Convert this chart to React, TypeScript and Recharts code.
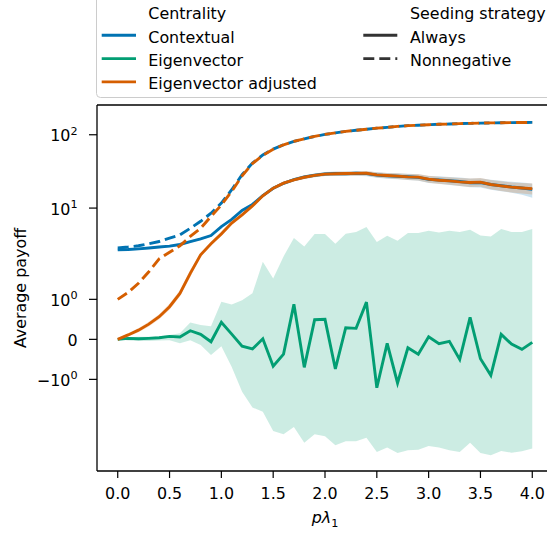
import React from 'react';
import { ComposedChart, Line, Area, XAxis, YAxis, ReferenceLine } from 'recharts';

const BLUE = '#0173B2';
const GREEN = '#029E73';
const ORANGE = '#D55E00';
const FONT = 'DejaVu Sans, sans-serif';
const FS = 15.9;

const pLambda = [
  0.0, 0.1, 0.2, 0.3, 0.4, 0.5, 0.6, 0.7, 0.8, 0.9,
  1.0, 1.1, 1.2, 1.3, 1.4, 1.5, 1.6, 1.7, 1.8, 1.9,
  2.0, 2.1, 2.2, 2.3, 2.4, 2.5, 2.6, 2.7, 2.8, 2.9,
  3.0, 3.1, 3.2, 3.3, 3.4, 3.5, 3.6, 3.7, 3.8, 3.9, 4.0,
];

const contextualAlways = [
  2.69, 2.72, 2.78, 2.85, 2.94, 3.03, 3.19, 3.48, 3.79, 4.22,
  5.6, 7.0, 9.3, 11.2, 14.8, 18.6, 21.8, 24.5, 26.5, 28.0,
  29.2, 29.6, 29.4, 29.8, 29.5, 28.3, 27.6, 27.2, 26.8, 26.2,
  24.6, 24.2, 23.6, 23.0, 22.2, 22.3, 21.0, 20.2, 19.4, 18.8, 18.0,
];
const contextualAlwaysLow = [
  2.6, 2.63, 2.69, 2.76, 2.85, 2.93, 3.08, 3.36, 3.66, 4.07,
  5.4, 6.75, 8.9, 10.7, 14.1, 17.7, 20.7, 23.2, 25.0, 26.4,
  27.4, 27.7, 27.4, 27.6, 27.2, 26.0, 25.2, 24.7, 24.2, 23.5,
  21.9, 21.4, 20.7, 20.0, 19.2, 19.1, 17.8, 17.0, 16.2, 15.2, 13.8,
];
const contextualAlwaysHigh = [
  2.78, 2.81, 2.87, 2.94, 3.04, 3.13, 3.3, 3.6, 3.92, 4.37,
  5.8, 7.25, 9.7, 11.7, 15.5, 19.5, 22.9, 25.8, 28.0, 29.7,
  31.0, 31.6, 31.5, 32.1, 31.9, 30.7, 30.1, 29.8, 29.5, 29.0,
  27.4, 27.1, 26.6, 26.1, 25.3, 25.6, 24.3, 23.6, 22.8, 22.3, 21.6,
];
const contextualNonneg = [
  2.85, 2.94, 3.06, 3.26, 3.5, 3.9, 4.3, 5.3, 6.6, 8.5,
  11.7, 17.8, 28.5, 41, 53, 63.8, 73, 81, 88, 95,
  101, 106, 111, 115, 119, 123, 126, 130, 133, 135,
  137, 139, 140, 142, 143, 144, 145, 146, 146.5, 147, 147.5,
];

const eigenAlways = [
  0, 0.025, 0.015, 0.025, 0.04, 0.075, 0.06, 0.215, 0.125, -0.06,
  0.425, 0.13, -0.17, -0.24, 0.015, -0.67, -0.37, 0.875, -0.7, 0.49,
  0.5, -0.74, 0.29, 0.275, 0.93, -1.21, -0.1, -1.09, -0.21, -0.37,
  0.065, -0.11, -0.05, -0.5, 0.55, -0.485, -0.9, 0.125, -0.12, -0.25, -0.075,
];
const eigenAlwaysLow = [
  0, -0.03, -0.04, -0.04, -0.03, -0.02, -0.1, -0.02, -0.14, -0.39,
  -0.17, -0.69, -1.31, -1.7, -1.81, -2.88, -3.2, -2.54, -4.15, -3.2,
  -3.4, -4.52, -3.98, -3.98, -3.55, -5.57, -4.85, -5.75, -5.28, -5.17,
  -4.61, -4.85, -5.28, -5.57, -4.15, -5.75, -6.18, -5.4, -5.69, -5.45, -5.0,
];
const eigenAlwaysHigh = [
  0, 0.05, 0.065, 0.065, 0.08, 0.11, 0.15, 0.42, 0.36, 0.33,
  0.94, 0.87, 0.98, 1.15, 1.94, 1.52, 2.19, 3.9, 2.99, 4.42,
  4.42, 3.26, 4.45, 4.71, 5.5, 3.44, 4.19, 3.58, 4.56, 4.56,
  4.9, 4.64, 4.9, 4.71, 5.06, 4.23, 4.1, 5.17, 4.71, 4.71, 5.17,
];

const adjustedAlways = [
  0, 0.11, 0.23, 0.38, 0.565, 0.815, 1.15, 1.65, 2.3, 3.26,
  4.45, 6.25, 8.1, 10.7, 14.7, 18.7, 21.9, 24.3, 26.3, 27.9,
  29.0, 29.4, 29.6, 29.7, 29.9, 28.4, 27.8, 27.3, 26.6, 26.4,
  24.8, 24.0, 23.5, 22.8, 22.3, 22.6, 21.0, 20.1, 19.3, 18.8, 18.4,
];
const adjustedAlwaysLow = [
  -0.03, 0.07, 0.18, 0.32, 0.5, 0.74, 1.07, 1.56, 2.2, 3.12,
  4.25, 5.95, 7.7, 10.2, 14.0, 17.8, 20.8, 23.0, 24.9, 26.3,
  27.3, 27.6, 27.7, 27.7, 27.8, 26.2, 25.5, 24.9, 24.1, 23.8,
  22.2, 21.3, 20.8, 20.0, 19.4, 19.6, 18.0, 17.1, 16.3, 15.8, 15.3,
];
const adjustedAlwaysHigh = [
  0.03, 0.15, 0.28, 0.44, 0.63, 0.89, 1.23, 1.74, 2.4, 3.4,
  4.65, 6.55, 8.5, 11.2, 15.4, 19.6, 23.0, 25.6, 27.8, 29.5,
  30.8, 31.3, 31.6, 31.8, 32.1, 30.7, 30.2, 29.8, 29.2, 29.1,
  27.5, 26.8, 26.3, 25.7, 25.3, 25.8, 24.1, 23.2, 22.4, 22.0, 21.7,
];
const adjustedNonneg = [
  1.0, 1.175, 1.4, 1.69, 2.03, 2.5, 3.06, 4.1, 5.3, 7.7,
  11.0, 16.9, 27.5, 40.5, 52.5, 63.5, 73, 81, 88, 95,
  101, 106, 111, 115, 119, 123, 126, 130, 133, 135,
  137, 139, 140, 142, 143, 144, 145, 146, 146.5, 147, 147.5,
];

const xTicks = [0, 0.5, 1, 1.5, 2, 2.5, 3, 3.5, 4];
const yTickValues = [100, 10, 1, 0, -1];
const yTickLabels = [
  ['10', '2'],
  ['10', '1'],
  ['10', '0'],
  ['0', ''],
  ['\u221210', '0'],
];

const centralityNames = ['Contextual', 'Eigenvector', 'Eigenvector adjusted'];
const centralityColors = [BLUE, GREEN, ORANGE];
const strategyNames = ['Always', 'Nonnegative'];
const strategyDashes = [undefined, '11 5'];

// symmetric log: linear up to 2, then log decades
const LIN = 2;
const DECADE = 1.8325;
const symlog = (v: number) => {
  const a = Math.abs(v);
  if (a <= LIN) return v;
  return Math.sign(v) * (LIN + DECADE * Math.log10(a / LIN));
};

const yTickPos = yTickValues.map(symlog);

const data = pLambda.map((x, i) => ({
  x,
  ctxA: symlog(contextualAlways[i]),
  ctxBand: [symlog(contextualAlwaysLow[i]), symlog(contextualAlwaysHigh[i])],
  ctxN: symlog(contextualNonneg[i]),
  eigA: symlog(eigenAlways[i]),
  eigBand: [symlog(eigenAlwaysLow[i]), symlog(eigenAlwaysHigh[i])],
  adjA: symlog(adjustedAlways[i]),
  adjBand: [symlog(adjustedAlwaysLow[i]), symlog(adjustedAlwaysHigh[i])],
  adjN: symlog(adjustedNonneg[i]),
}));

const Y_DOMAIN = [-3.29, 5.857];

const YTick = (props: any) => {
  const { x, y, payload } = props;
  let idx = 0;
  let best = Infinity;
  yTickPos.forEach((p, i) => {
    const d = Math.abs(p - payload.value);
    if (d < best) { best = d; idx = i; }
  });
  const [base, exp] = yTickLabels[idx];
  return (
    <text x={x} y={y} dy={6.5} textAnchor="end" fill="#000" fontSize={FS} fontFamily={FONT}>
      <tspan>{base}</tspan>
      {exp ? <tspan dy={-6.5} fontSize={11.2}>{exp}</tspan> : null}
    </text>
  );
};

const XLabel = () => (
  <text x={325} y={523} textAnchor="middle" fill="#000" fontSize={FS} fontFamily={FONT}>
    <tspan fontStyle="italic">p{'\u03bb'}</tspan>
    <tspan fontSize={11.2} dy={3.5}>1</tspan>
  </text>
);

function LegendBox() {
  const rowY = (k: number) => 12 + 23.3 * k;
  return (
    <svg width={547} height={100} style={{ position: 'absolute', left: 0, top: 0 }}>
      <rect x={96.5} y={-6} width={470} height={103.5} rx={4} fill="#fff" fillOpacity={0.8} stroke="#cccccc" />
      <text x={148.3} y={rowY(0) + 7.3} fontSize={FS} fontFamily={FONT} fill="#000">Centrality</text>
      {centralityNames.map((n, i) => (
        <g key={n}>
          <line x1={101.7} x2={136} y1={rowY(i + 1)} y2={rowY(i + 1)} stroke={centralityColors[i]} strokeWidth={2.9} />
          <text x={148.3} y={rowY(i + 1) + 7.3} fontSize={FS} fontFamily={FONT} fill="#000">{n}</text>
        </g>
      ))}
      <text x={410} y={rowY(0) + 7.3} fontSize={FS} fontFamily={FONT} fill="#000">Seeding strategy</text>
      {strategyNames.map((n, i) => (
        <g key={n}>
          <line x1={363.3} x2={397.3} y1={rowY(i + 1)} y2={rowY(i + 1)} stroke="#333" strokeWidth={2.9} strokeDasharray={strategyDashes[i]} />
          <text x={410} y={rowY(i + 1) + 7.3} fontSize={FS} fontFamily={FONT} fill="#000">{n}</text>
        </g>
      ))}
    </svg>
  );
}

export default function App() {
  return (
    <div style={{ position: 'absolute', left: 0, top: 0, width: 547, height: 533, overflow: 'hidden', background: '#fff' }}>
      <ComposedChart width={553} height={533} data={data} margin={{ top: 105, right: 0, bottom: 0, left: 0 }}>
        <XAxis
          dataKey="x"
          type="number"
          domain={[-0.2, 4.2]}
          ticks={xTicks}
          tickFormatter={(v: number) => v.toFixed(1)}
          height={62}
          axisLine={{ stroke: '#000', strokeWidth: 1.3 }}
          tickLine={{ stroke: '#000', strokeWidth: 1.2 }}
          tickSize={7}
          tickMargin={10}
          tick={{ fill: '#000', fontSize: FS, fontFamily: FONT }}
          label={{ content: () => <XLabel /> }}
        />
        <YAxis
          type="number"
          domain={Y_DOMAIN}
          allowDataOverflow
          ticks={yTickPos}
          width={97}
          axisLine={{ stroke: '#000', strokeWidth: 1.3 }}
          tickLine={{ stroke: '#000', strokeWidth: 1.2 }}
          tickSize={8}
          tickMargin={11.5}
          tick={<YTick />}
          label={{
            value: 'Average payoff',
            angle: -90,
            position: 'insideLeft',
            offset: 20,
            style: { textAnchor: 'middle', fontSize: FS, fill: '#000', fontFamily: FONT },
          }}
        />
        <ReferenceLine y={Y_DOMAIN[1]} stroke="#000" strokeWidth={1.5} />

        <Area dataKey="ctxBand" type="linear" stroke="none" fill={BLUE} fillOpacity={0.2} isAnimationActive={false} />
        <Area dataKey="eigBand" type="linear" stroke="none" fill={GREEN} fillOpacity={0.2} isAnimationActive={false} />
        <Area dataKey="adjBand" type="linear" stroke="none" fill={ORANGE} fillOpacity={0.2} isAnimationActive={false} />

        <Line dataKey="ctxA" type="linear" stroke={BLUE} strokeWidth={2.9} dot={false} isAnimationActive={false} />
        <Line dataKey="ctxN" type="linear" stroke={BLUE} strokeWidth={2.9} strokeDasharray="11 5" dot={false} isAnimationActive={false} />
        <Line dataKey="eigA" type="linear" stroke={GREEN} strokeWidth={2.9} dot={false} isAnimationActive={false} />
        <Line dataKey="adjA" type="linear" stroke={ORANGE} strokeWidth={2.9} dot={false} isAnimationActive={false} />
        <Line dataKey="adjN" type="linear" stroke={ORANGE} strokeWidth={2.9} strokeDasharray="11 5" dot={false} isAnimationActive={false} />
      </ComposedChart>
      <LegendBox />
    </div>
  );
}
